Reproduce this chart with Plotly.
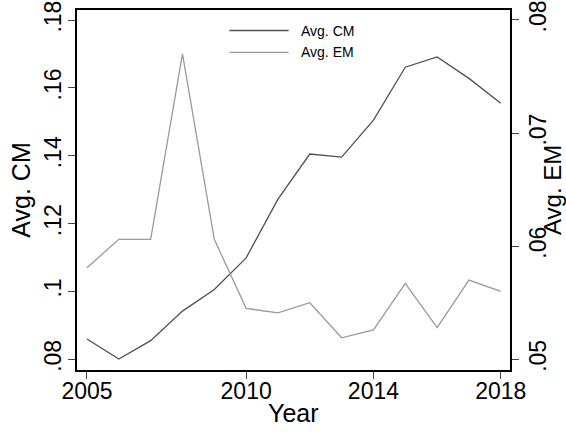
import plotly.graph_objects as go

# Yearly averages
years = list(range(2005, 2019))
avg_cm = [0.0860, 0.0801, 0.0855, 0.0942, 0.1006, 0.1099, 0.1272, 0.1405,
          0.1396, 0.1505, 0.1661, 0.1691, 0.1628, 0.1555]
avg_em = [0.0581, 0.0606, 0.0606, 0.0770, 0.0606, 0.0545, 0.0541, 0.0550,
          0.0519, 0.0526, 0.0567, 0.0528, 0.0570, 0.0560]

x_ticks = [2005, 2010, 2014, 2018]
cm_ticks = [0.08, 0.10, 0.12, 0.14, 0.16, 0.18]
cm_tick_text = [".08", ".1", ".12", ".14", ".16", ".18"]
em_ticks = [0.05, 0.06, 0.07, 0.08]
em_tick_text = [".05", ".06", ".07", ".08"]

CM_COLOR = "#505050"
EM_COLOR = "#9a9a9a"
FONT = "Arial, Liberation Sans, Helvetica, sans-serif"

W, H = 566, 432
L, R, T, B = 76.7, 56, 10, 62
pw, ph = W - L - R, H - T - B

def px_to_paper(x, y):
    return (x - L) / pw, (H - B - y) / ph

fig = go.Figure()
fig.add_trace(go.Scatter(x=years, y=avg_cm, mode="lines", name="Avg. CM",
                         line=dict(color=CM_COLOR, width=1.3), showlegend=False))
fig.add_trace(go.Scatter(x=years, y=avg_em, mode="lines", name="Avg. EM",
                         line=dict(color=EM_COLOR, width=1.3), yaxis="y2",
                         showlegend=False))

# Legend drawn as line samples plus labels
legend_items = [("Avg. CM", CM_COLOR, 30.5), ("Avg. EM", EM_COLOR, 52.3)]
for label, color, ypx in legend_items:
    x0, y0 = px_to_paper(229.3, ypx)
    x1, _ = px_to_paper(288.5, ypx)
    fig.add_shape(type="line", xref="paper", yref="paper", x0=x0, x1=x1,
                  y0=y0, y1=y0, line=dict(color=color, width=1.3))
    tx, _ = px_to_paper(299, ypx)
    fig.add_annotation(xref="paper", yref="paper", x=tx, y=y0, text=label,
                       showarrow=False, xanchor="left", yanchor="middle",
                       font=dict(size=14, color="#000000", family=FONT))

# Axis titles
rx, ry = px_to_paper(552, 190)
fig.add_annotation(xref="paper", yref="paper", x=rx, y=ry, text="Avg. EM",
                   textangle=-90, showarrow=False, xanchor="center",
                   yanchor="middle", borderpad=0,
                   font=dict(size=24, color="#000000", family=FONT))
yx, yy = px_to_paper(293, 413)
fig.add_annotation(xref="paper", yref="paper", x=yx, y=yy, text="Year",
                   showarrow=False, xanchor="center", yanchor="middle",
                   font=dict(size=25, color="#000000", family=FONT))

def axis_style(standoff):
    return dict(showgrid=False, zeroline=False, showline=True,
                linecolor="#000000", linewidth=1.5, ticks="outside",
                ticklen=7, tickwidth=1, tickcolor="#444444",
                ticklabelstandoff=standoff, automargin=False,
                tickfont=dict(size=23, color="#000000", family=FONT))

fig.update_layout(
    width=W, height=H,
    margin=dict(l=L, r=R, t=T, b=B),
    paper_bgcolor="#ffffff", plot_bgcolor="#ffffff",
    font=dict(family=FONT, color="#000000"),
    xaxis=dict(range=[2004.686, 2018.29], tickvals=x_ticks,
               ticktext=[str(v) for v in x_ticks], mirror=True,
               **axis_style(-7)),
    yaxis=dict(range=[0.07685, 0.18295], tickvals=cm_ticks,
               ticktext=cm_tick_text, tickangle=-90,
               title=dict(text="Avg. CM", font=dict(size=25), standoff=2),
               **axis_style(-2)),
    yaxis2=dict(range=[0.04905, 0.08088], tickvals=em_ticks,
                ticktext=em_tick_text, tickangle=-90, overlaying="y",
                side="right", **axis_style(0)),
)

fig.write_html("out.html")
